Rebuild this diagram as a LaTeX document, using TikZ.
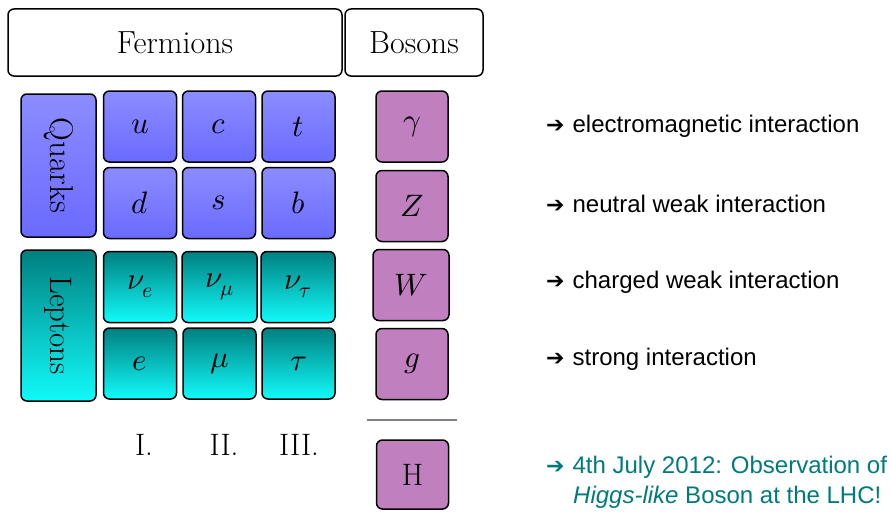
\documentclass[tikz,border=0pt]{standalone}
\usepackage{unicode-math}
\newfontfamily\helv{Liberation Sans}
\newfontfamily\arrowfont{DejaVu Sans}
\definecolor{qtop}{RGB}{140,140,255}
\definecolor{qbot}{RGB}{106,106,255}
\definecolor{ltop}{RGB}{0,128,128}
\definecolor{lbot}{RGB}{18,250,250}
\definecolor{bos}{RGB}{192,128,192}
\definecolor{higgsgreen}{RGB}{0,122,122}
\tikzset{
  box/.style={draw=black, line width=1.5pt, rounded corners=6pt, inner sep=0pt},
  head/.style={box, fill=white, font=\fontsize{32}{36}\selectfont},
  quark/.style={box, top color=qtop, bottom color=qbot, minimum width=73pt, minimum height=71pt, font=\fontsize{31}{34}\selectfont},
  lepton/.style={box, top color=ltop, bottom color=lbot, minimum width=73pt, minimum height=71pt, font=\fontsize{31}{34}\selectfont},
  boson/.style={box, fill=bos, minimum width=72pt, minimum height=71pt, font=\fontsize{31}{34}\selectfont},
  gen/.style={font=\fontsize{31}{34}\selectfont},
  info/.style={anchor=west, inner sep=0pt, font=\helv\fontsize{24}{28}\selectfont}
}
\newcommand{\arr}{{\arrowfont\fontsize{22}{24}\selectfont ➔}\hspace{8pt}}
\begin{document}
\begin{tikzpicture}[x=1pt,y=-1pt]
\useasboundingbox (0,0) rectangle (890,511);
% headers
\node[head, minimum width=334pt, minimum height=67pt] (ferm) at (175,42.5) {Fermions};
\node[head, minimum width=138pt, minimum height=67pt] (bos) at (414,42.5) {Bosons};
% group labels
\node[box, top color=qtop, bottom color=qbot, minimum width=75pt, minimum height=143pt] (quarks) at (58.5,165.5) {};
\node[rotate=-90, font=\fontsize{33}{36}\selectfont] (quarkstxt) at (quarks.center) {Quarks};
\node[box, top color=ltop, bottom color=lbot, minimum width=75pt, minimum height=151pt] (leptons) at (58.5,325.5) {};
\node[rotate=-90, font=\fontsize{31}{34}\selectfont] (leptonstxt) at (leptons.center) {Leptons};
% quarks
\node[quark] (u) at (140,126.5) {$u$};
\node[quark] (c) at (219,126.5) {$c$};
\node[quark] (t) at (298.5,126.5) {$t$};
\node[quark] (d) at (140,203) {$d$};
\node[quark] (s) at (219,203) {$s$};
\node[quark] (b) at (298.5,203) {$b$};
% leptons
\node[lepton] (ne) at (140,287) {$\nu_e$};
\node[lepton, minimum width=75pt] (nm) at (219.5,287) {$\nu_\mu$};
\node[lepton, minimum width=74pt] (nt) at (298,287) {$\nu_\tau$};
\node[lepton] (e) at (140,363.5) {$e$};
\node[lepton] (mu) at (219.5,363.5) {$\mu$};
\node[lepton] (tau) at (298.5,363.5) {$\tau$};
% generations
\node[gen] (g1) at (144,445) {I.};
\node[gen] (g2) at (224,445) {II.};
\node[gen] (g3) at (299,445) {III.};
% bosons
\node[boson] (gam) at (412,126.5) {$\gamma$};
\node[boson] (Z) at (412,206) {$Z$};
\node[boson, minimum width=76pt] (W) at (411,285) {$W$};
\node[boson] (gl) at (412,364) {$g$};
\coordinate (la) at (367,420);
\coordinate (lb) at (457,420);
\draw[gray, line width=1.5pt] (la) -- (lb);
\node[boson, minimum height=69pt] (H) at (412.5,474.5) {H};
% interactions
\node[info] (i1) at (546,126) {\arr electromagnetic interaction};
\node[info] (i2) at (546,204) {\arr neutral weak interaction};
\node[info] (i3) at (546,282) {\arr charged weak interaction};
\node[info] (i4) at (546,359) {\arr strong interaction};
\node[info, text=higgsgreen] (h1) at (546,467) {\arr 4th July 2012: Observation of};
\node[info, text=higgsgreen] (h2) at (573,497) {\textit{Higgs-like} Boson at the LHC!};
\end{tikzpicture}
\end{document}
